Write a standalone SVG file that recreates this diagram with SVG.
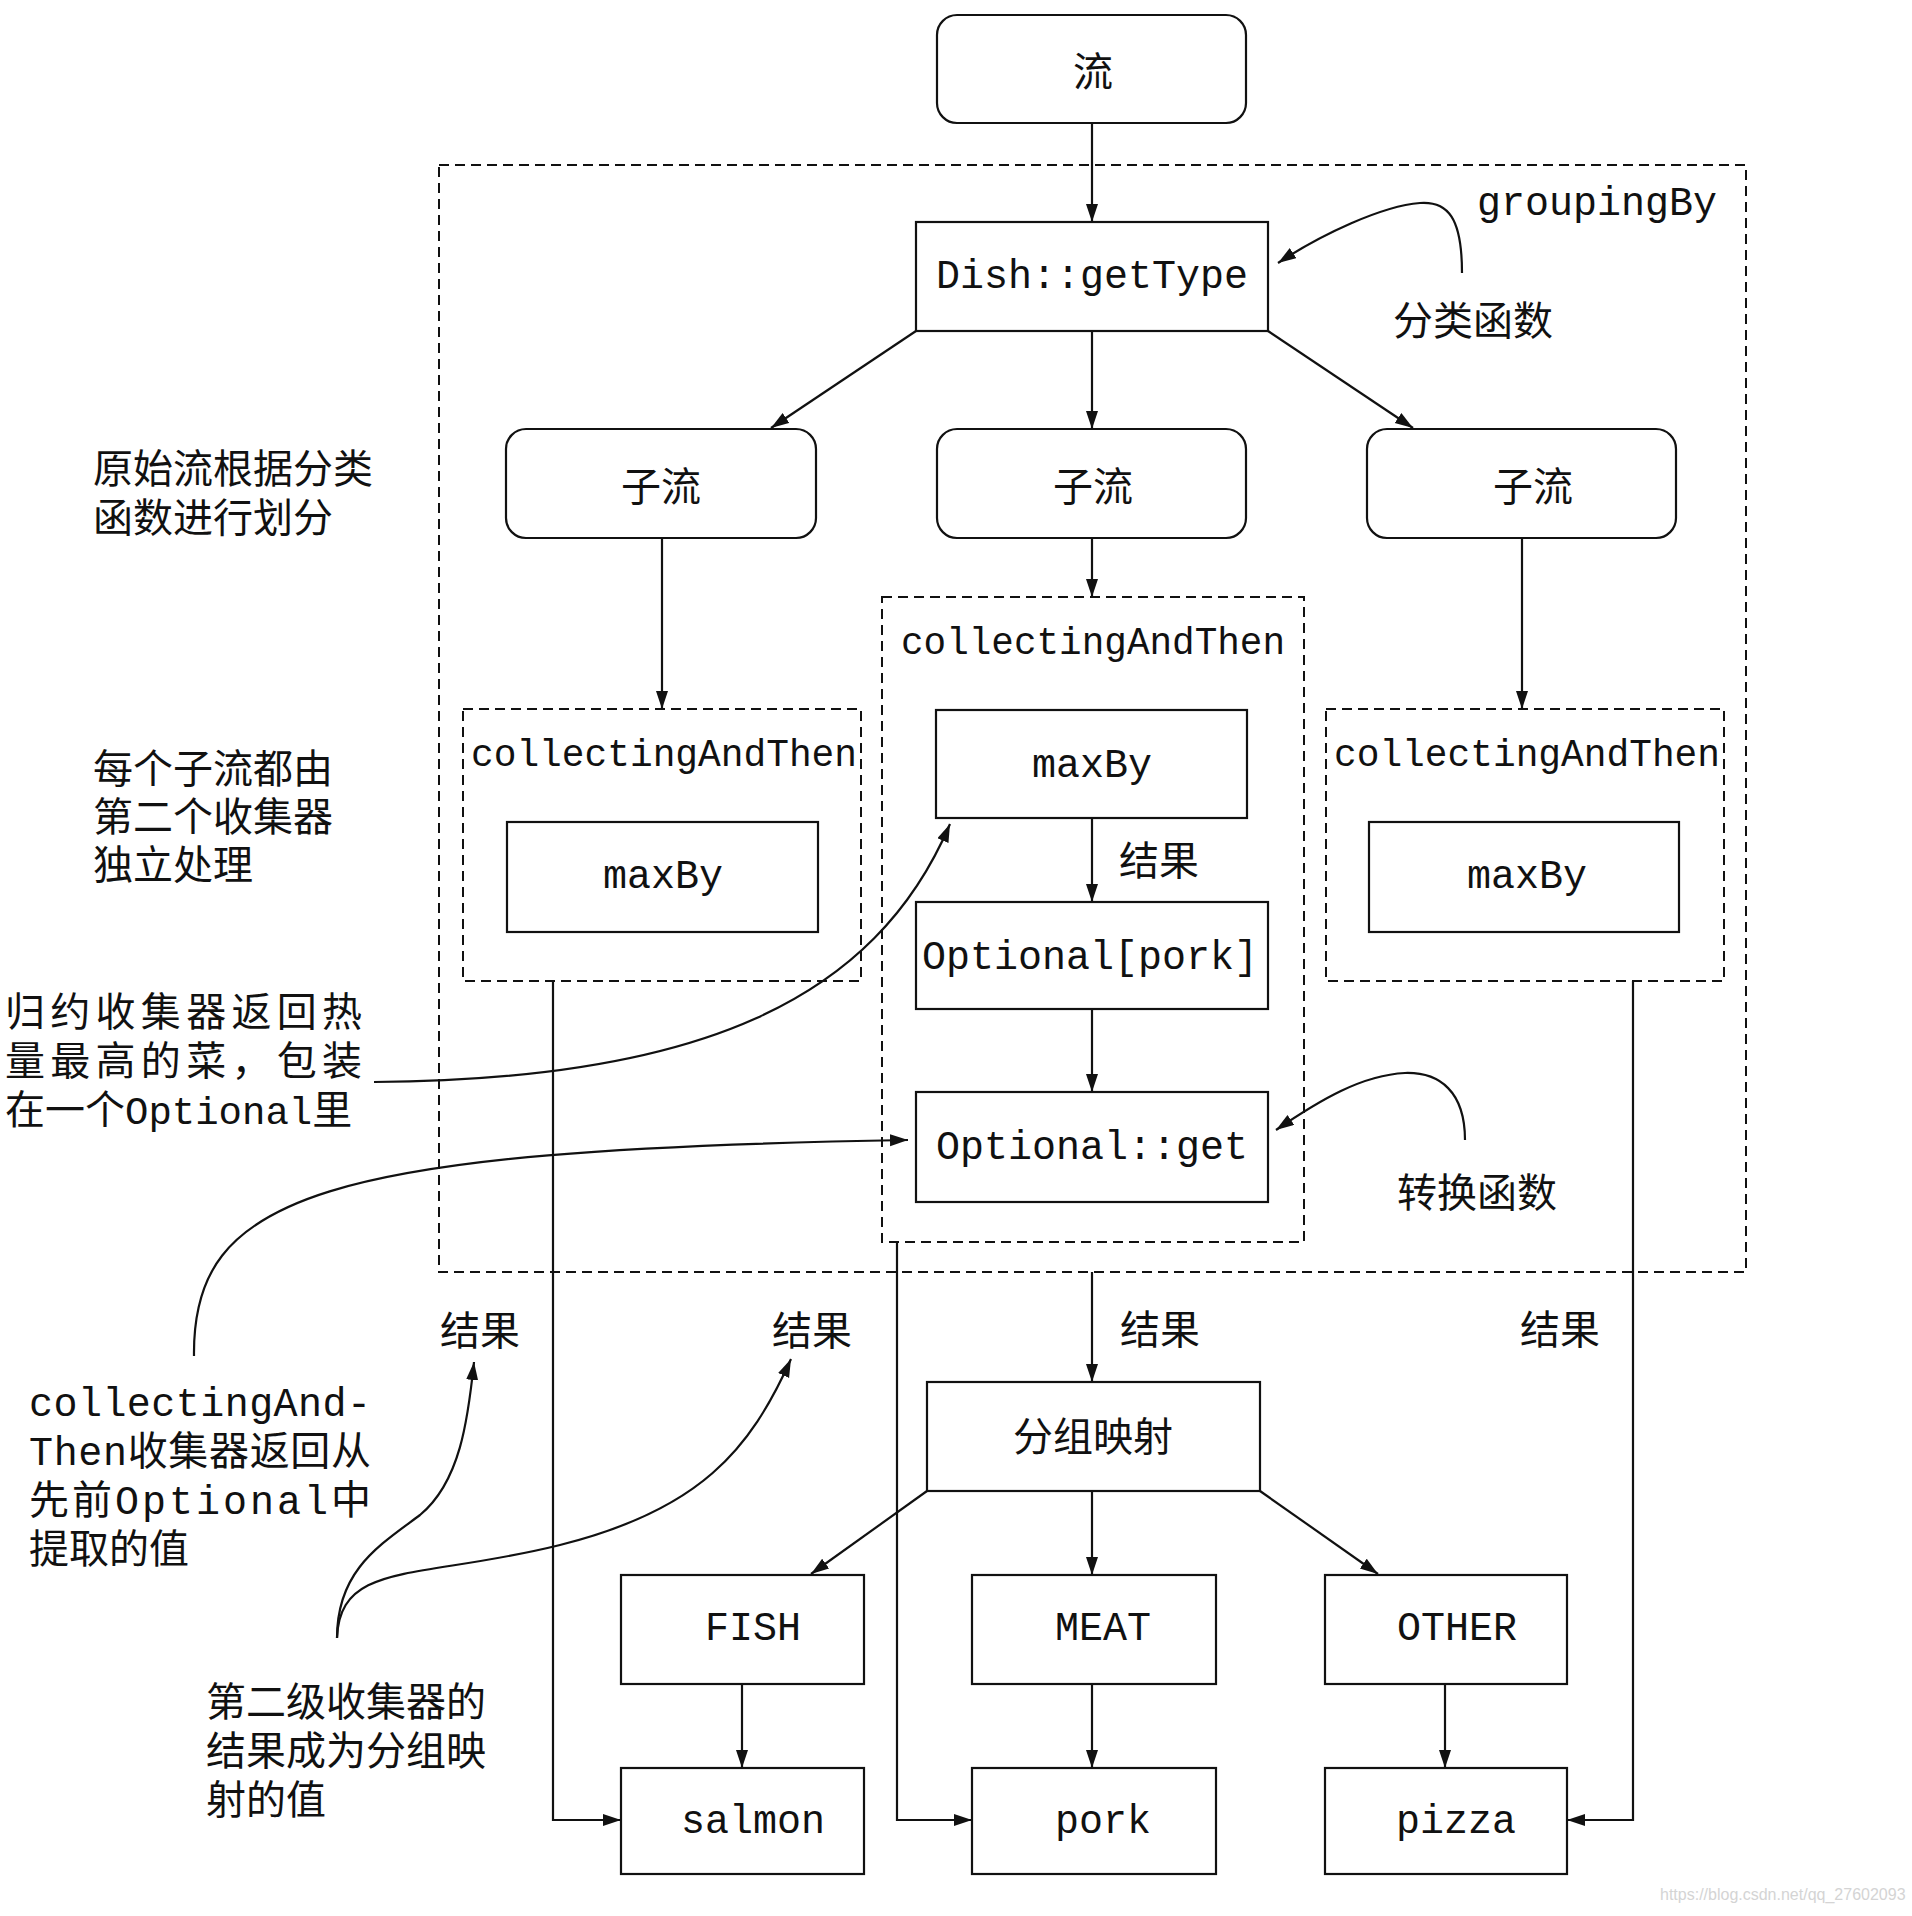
<svg xmlns="http://www.w3.org/2000/svg" width="1912" height="1916" viewBox="0 0 1912 1916">
<style>
.box{fill:#fff;stroke:#111;stroke-width:2.2}
.dash{fill:none;stroke:#111;stroke-width:2;stroke-dasharray:10 6}
.ln{fill:none;stroke:#111;stroke-width:2.2}
.cj{font-family:"Noto Sans CJK SC","Noto Sans CJK JP",sans-serif;font-size:40px;fill:#111}
.mo{font-family:"Liberation Mono","DejaVu Sans Mono",monospace;font-size:40px;fill:#111}
.mid{text-anchor:middle}
</style>
<defs>
<marker id="ah" markerUnits="userSpaceOnUse" markerWidth="20" markerHeight="14" refX="18" refY="6" orient="auto">
<path d="M0,0 L18,6 L0,12 z" fill="#111"/>
</marker>
</defs>
<rect width="1912" height="1916" fill="#fff"/>

<g id="groupingBy">
<rect class="dash" x="439" y="165" width="1307" height="1107"/>
<text class="mo" x="1477" y="215">groupingBy</text>
</g>

<g id="stream">
<rect class="box" x="937" y="15" width="309" height="108" rx="20"/>
<text class="cj mid" x="1093" y="86">流</text>
</g>

<g id="getType">
<rect class="box" x="916" y="222" width="352" height="109"/>
<text class="mo mid" x="1092" y="288">Dish::getType</text>
</g>

<g id="sub1">
<rect class="box" x="506" y="429" width="310" height="109" rx="20"/>
<text class="cj mid" x="661" y="501">子流</text>
</g>
<g id="sub2">
<rect class="box" x="937" y="429" width="309" height="109" rx="20"/>
<text class="cj mid" x="1093" y="501">子流</text>
</g>
<g id="sub3">
<rect class="box" x="1367" y="429" width="309" height="109" rx="20"/>
<text class="cj mid" x="1533" y="501">子流</text>
</g>

<g id="cat1">
<rect class="dash" x="463" y="709" width="398" height="272"/>
<text class="mo" x="471" y="766" font-size="38" textLength="386" lengthAdjust="spacingAndGlyphs" style="font-size:38px">collectingAndThen</text>
<rect class="box" x="507" y="822" width="311" height="110"/>
<text class="mo mid" x="663" y="888">maxBy</text>
</g>

<g id="cat2">
<rect class="dash" x="882" y="597" width="422" height="645"/>
<text class="mo" x="901" y="654" textLength="384" lengthAdjust="spacingAndGlyphs" style="font-size:38px">collectingAndThen</text>
</g>
<g id="maxBy2">
<rect class="box" x="936" y="710" width="311" height="108"/>
<text class="mo mid" x="1092" y="777">maxBy</text>
</g>
<g id="optPork">
<rect class="box" x="916" y="902" width="352" height="107"/>
<text class="mo mid" x="1090" y="969">Optional[pork]</text>
</g>
<g id="optGet">
<rect class="box" x="916" y="1092" width="352" height="110"/>
<text class="mo mid" x="1092" y="1159">Optional::get</text>
</g>

<g id="cat3">
<rect class="dash" x="1326" y="709" width="398" height="272"/>
<text class="mo" x="1334" y="766" textLength="386" lengthAdjust="spacingAndGlyphs" style="font-size:38px">collectingAndThen</text>
<rect class="box" x="1369" y="822" width="310" height="110"/>
<text class="mo mid" x="1527" y="888">maxBy</text>
</g>

<g id="groupMap">
<rect class="box" x="927" y="1382" width="333" height="109"/>
<text class="cj mid" x="1093" y="1451">分组映射</text>
</g>

<g id="fish">
<rect class="box" x="621" y="1575" width="243" height="109"/>
<text class="mo mid" x="753" y="1640">FISH</text>
</g>
<g id="meat">
<rect class="box" x="972" y="1575" width="244" height="109"/>
<text class="mo mid" x="1103" y="1640">MEAT</text>
</g>
<g id="other">
<rect class="box" x="1325" y="1575" width="242" height="109"/>
<text class="mo mid" x="1457" y="1640">OTHER</text>
</g>
<g id="salmon">
<rect class="box" x="621" y="1768" width="243" height="106"/>
<text class="mo mid" x="753" y="1833">salmon</text>
</g>
<g id="pork">
<rect class="box" x="972" y="1768" width="244" height="106"/>
<text class="mo mid" x="1103" y="1833">pork</text>
</g>
<g id="pizza">
<rect class="box" x="1325" y="1768" width="242" height="106"/>
<text class="mo mid" x="1456" y="1833">pizza</text>
</g>

<g id="connectors">
<path class="ln" d="M1092,123 V222" marker-end="url(#ah)"/>
<path class="ln" d="M916,331 L771,428" marker-end="url(#ah)"/>
<path class="ln" d="M1092,331 V429" marker-end="url(#ah)"/>
<path class="ln" d="M1268,331 L1413,428" marker-end="url(#ah)"/>
<path class="ln" d="M662,538 V709" marker-end="url(#ah)"/>
<path class="ln" d="M1092,538 V597" marker-end="url(#ah)"/>
<path class="ln" d="M1522,538 V709" marker-end="url(#ah)"/>
<path class="ln" d="M1092,818 V902" marker-end="url(#ah)"/>
<path class="ln" d="M1092,1009 V1092" marker-end="url(#ah)"/>
<path class="ln" d="M1092,1272 V1382" marker-end="url(#ah)"/>
<path class="ln" d="M927,1491 L811,1574" marker-end="url(#ah)"/>
<path class="ln" d="M1092,1491 V1575" marker-end="url(#ah)"/>
<path class="ln" d="M1260,1491 L1378,1574" marker-end="url(#ah)"/>
<path class="ln" d="M742,1684 V1768" marker-end="url(#ah)"/>
<path class="ln" d="M1092,1684 V1768" marker-end="url(#ah)"/>
<path class="ln" d="M1445,1684 V1768" marker-end="url(#ah)"/>
<path class="ln" d="M553,981 V1820 H621" marker-end="url(#ah)"/>
<path class="ln" d="M897,1242 V1820 H972" marker-end="url(#ah)"/>
<path class="ln" d="M1633,981 V1820 H1567" marker-end="url(#ah)"/>
<path class="ln" d="M1462,273 C1462,218 1448,201 1420,203 C1382,206 1322,234 1278,263" marker-end="url(#ah)"/>
<path class="ln" d="M1465,1140 C1465,1092 1440,1072 1405,1073 C1362,1075 1320,1100 1276,1130" marker-end="url(#ah)"/>
<path class="ln" d="M374,1082 C700,1080 875,1000 950,824" marker-end="url(#ah)"/>
<path class="ln" d="M194,1356 C192,1195 320,1150 908,1140" marker-end="url(#ah)"/>
<path class="ln" d="M337,1638 C337,1570 380,1545 420,1515 C460,1482 468,1420 474,1362" marker-end="url(#ah)"/>
<path class="ln" d="M337,1638 C340,1560 420,1580 560,1545 C700,1510 750,1450 791,1359" marker-end="url(#ah)"/>
</g>

<g id="labels">
<text class="cj" x="1393" y="335">分类函数</text>
<text class="cj" x="1119" y="875">结果</text>
<text class="cj" x="1397" y="1207">转换函数</text>
<text class="cj" x="440" y="1345">结果</text>
<text class="cj" x="772" y="1345">结果</text>
<text class="cj" x="1120" y="1344">结果</text>
<text class="cj" x="1520" y="1344">结果</text>
</g>

<g id="note1">
<text class="cj" x="93" y="483">原始流根据分类</text>
<text class="cj" x="93" y="532">函数进行划分</text>
</g>
<g id="note2">
<text class="cj" x="93" y="783">每个子流都由</text>
<text class="cj" x="93" y="831">第二个收集器</text>
<text class="cj" x="93" y="879">独立处理</text>
</g>
<g id="note3">
<text class="cj" x="5" y="1026" textLength="357" lengthAdjust="spacing">归约收集器返回热</text>
<text class="cj" x="5" y="1075" textLength="357" lengthAdjust="spacing">量最高的菜，包装</text>
<text class="cj" x="5" y="1124">在一个<tspan class="mo" style="font-size:39px">Optional</tspan>里</text>
</g>
<g id="note4">
<text class="mo" x="29" y="1416" textLength="342" lengthAdjust="spacing">collectingAnd-</text>
<text class="cj" x="29" y="1465" textLength="342" lengthAdjust="spacing"><tspan class="mo">Then</tspan>收集器返回从</text>
<text class="cj" x="29" y="1514" textLength="342" lengthAdjust="spacing">先前<tspan class="mo">Optional</tspan>中</text>
<text class="cj" x="29" y="1563">提取的值</text>
</g>
<g id="note5">
<text class="cj" x="206" y="1716">第二级收集器的</text>
<text class="cj" x="206" y="1765">结果成为分组映</text>
<text class="cj" x="206" y="1814">射的值</text>
</g>

<text x="1660" y="1900" style="font-family:'Liberation Sans',Arial,sans-serif;font-size:16px;fill:#d4d4d4">https://blog.csdn.net/qq_27602093</text>
</svg>
